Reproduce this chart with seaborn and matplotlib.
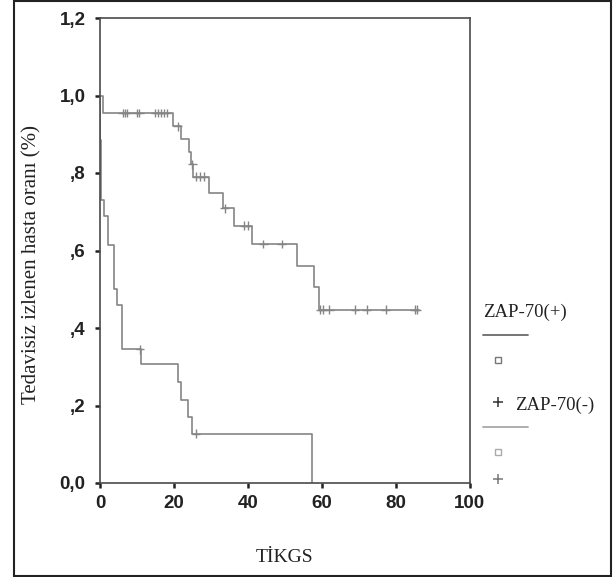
import numpy as np
import pandas as pd
import matplotlib
matplotlib.use("Agg")
import matplotlib.pyplot as plt
from matplotlib.lines import Line2D
from matplotlib.patches import Rectangle
import seaborn as sns

# ---- data ----
neg_times = [0, 0.8, 19.8, 21.8, 24.1, 24.6, 25.2, 29.6, 33.4, 36.3, 41.1, 53.2, 57.8, 59.3, 86.3]
neg_surv = [1.0, 0.955, 0.921, 0.887, 0.855, 0.822, 0.790, 0.748, 0.709, 0.664, 0.617, 0.560, 0.507, 0.447, 0.447]
neg_censored = [6.1, 6.8, 7.4, 9.9, 10.6, 15.0, 15.8, 16.5, 17.3, 18.1, 21.0, 25.0, 26.0, 27.1, 28.1,
                33.8, 39.1, 40.0, 44.2, 49.2, 59.6, 60.3, 62.1, 69.0, 72.2, 77.3, 85.2, 85.8]

pos_times = [0, 0, 0.3, 1.2, 2.2, 3.7, 4.6, 6.0, 11.0, 21.2, 21.8, 23.9, 25.0, 57.3]
pos_surv = [1.0, 0.885, 0.73, 0.69, 0.615, 0.50, 0.46, 0.345, 0.307, 0.26, 0.215, 0.17, 0.127, 0.0]
pos_censored = [10.8, 26.0]

groups = ["ZAP-70(+)", "ZAP-70(-)"]
x_ticks = [0, 20, 40, 60, 80, 100]
y_ticks = [0.0, 0.2, 0.4, 0.6, 0.8, 1.0, 1.2]
y_tick_labels = ["0,0", ",2", ",4", ",6", ",8", "1,0", "1,2"]
x_label = "TİKGS"
y_label = "Tedavisiz izlenen hasta oranı (%)"


def step_value(times, surv, t):
    times = np.asarray(times)
    idx = np.searchsorted(times, t, side="right") - 1
    return np.asarray(surv)[idx]


curves = pd.concat([
    pd.DataFrame({"t": pos_times, "s": pos_surv, "g": groups[0]}),
    pd.DataFrame({"t": neg_times, "s": neg_surv, "g": groups[1]}),
], ignore_index=True)

cens = pd.concat([
    pd.DataFrame({"t": pos_censored, "s": step_value(pos_times, pos_surv, pos_censored), "g": groups[0]}),
    pd.DataFrame({"t": neg_censored, "s": step_value(neg_times, neg_surv, neg_censored), "g": groups[1]}),
], ignore_index=True)

sns.set_style("white")
W, H = 613, 577
fig = plt.figure(figsize=(W / 100, H / 100), dpi=100)
ax = fig.add_axes([100 / W, 1 - 483 / H, 369.5 / W, 465 / H])

curve_col = "#858585"
pal = {groups[0]: curve_col, groups[1]: curve_col}

sns.lineplot(data=curves, x="t", y="s", hue="g", palette=pal, estimator=None, sort=False,
             drawstyle="steps-post", linewidth=1.2, legend=False, ax=ax)
sns.scatterplot(data=cens, x="t", y="s", hue="g", palette=pal, marker="+", s=40,
                linewidth=1.0, legend=False, ax=ax, zorder=3)

ax.set_xlim(0, 100)
ax.set_ylim(0, 1.2)
ax.set_xticks(x_ticks)
ax.set_xticklabels([str(v) for v in x_ticks])
ax.set_yticks(y_ticks)
ax.set_yticklabels(y_tick_labels)
ax.set_xlabel("")
ax.set_ylabel("")

for sp in ax.spines.values():
    sp.set_visible(True)
    sp.set_color("#4a4a4a")
    sp.set_linewidth(1.2)

tick_font = dict(family="Liberation Sans", size=13.5, weight="bold")
for lab in ax.get_xticklabels() + ax.get_yticklabels():
    lab.set_fontfamily("Liberation Sans")
    lab.set_fontsize(13.5)
    lab.set_fontweight("bold")
    lab.set_color("#222222")
ax.tick_params(axis="both", direction="out", length=3.5, width=1.8, color="#222222",
               left=True, bottom=True)
ax.tick_params(axis="y", pad=7)
ax.tick_params(axis="x", pad=5)

serif = "Liberation Serif"
fig.text(31.7 / W, 1 - 264 / H, y_label, rotation=90, ha="center", va="center",
         fontsize=15, family=serif, color="#222222")
fig.text(285 / W, 1 - 557 / H, x_label, ha="center", va="center",
         fontsize=14, family=serif, color="#222222")

# legend (SPSS style)
fig.text(483 / W, 1 - 312 / H, groups[0], ha="left", va="center", fontsize=13.5,
         family=serif, color="#222222")
fig.add_artist(Line2D([483 / W, 528 / W], [1 - 334.5 / H] * 2, color="#6a6a6a", lw=1.3))
fig.add_artist(Line2D([498.3 / W], [1 - 360 / H], marker="s", ms=5, mfc="white",
                      mec="#777777", mew=1.0, ls="none"))
fig.add_artist(Line2D([498.3 / W], [1 - 401.7 / H], marker="+", ms=7, mec="#333333",
                      mew=1.1, ls="none"))
fig.text(515 / W, 1 - 405 / H, groups[1], ha="left", va="center", fontsize=13.5,
         family=serif, color="#222222")
fig.add_artist(Line2D([483 / W, 528 / W], [1 - 426.7 / H] * 2, color="#a8a8a8", lw=1.3))
fig.add_artist(Line2D([498.3 / W], [1 - 452 / H], marker="s", ms=5, mfc="white",
                      mec="#aaaaaa", mew=1.0, ls="none"))
fig.add_artist(Line2D([498.3 / W], [1 - 479 / H], marker="+", ms=7, mec="#777777",
                      mew=1.1, ls="none"))

# outer frame
fig.add_artist(Rectangle((14 / W, 1 / H), (611 - 14) / W, (576 - 1) / H,
                         fill=False, ec="#222222", lw=1.5, transform=fig.transFigure))

fig.savefig("out.png", dpi=100)
